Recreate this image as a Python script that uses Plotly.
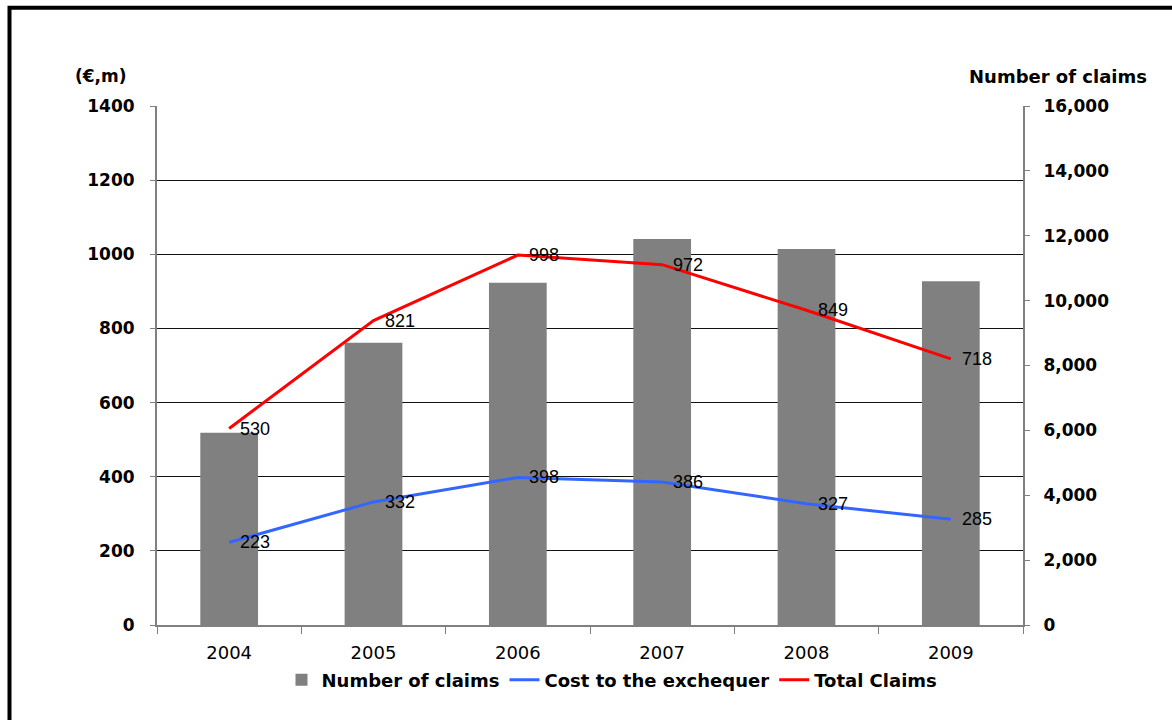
import plotly.graph_objects as go

# Data
years = ["2004", "2005", "2006", "2007", "2008", "2009"]
num_claims = [5930, 8700, 10550, 11900, 11590, 10600]
cost_exchequer = [223, 332, 398, 386, 327, 285]
total_claims = [530, 821, 998, 972, 849, 718]

left_ticks = [0, 200, 400, 600, 800, 1000, 1200, 1400]
right_ticks = [0, 2000, 4000, 6000, 8000, 10000, 12000, 14000, 16000]

BOLD = "DejaVu Sans"
LABEL_FONT = dict(family="Liberation Sans, Arial, sans-serif", size=18, color="black")

fig = go.Figure()

# Bars on the primary (right-hand) axis so the lines are drawn above them
fig.add_trace(go.Bar(
    x=years, y=num_claims, name="Number of claims",
    marker=dict(color="#808080", line=dict(width=0)),
    width=0.4, yaxis="y",
))

fig.add_trace(go.Scatter(
    x=years, y=cost_exchequer, name="Cost to the exchequer",
    mode="lines", line=dict(color="#3366FF", width=3), yaxis="y2",
))

fig.add_trace(go.Scatter(
    x=years, y=total_claims, name="Total Claims",
    mode="lines", line=dict(color="#FF0000", width=3), yaxis="y2",
))

L, R, T, B = 157, 149, 106, 95
W, H = 1172, 720
pw, ph = W - L - R, H - T - B


def px_x(x):
    return (x - L) / pw


def px_y(y):
    return (H - B - y) / ph


# value labels sit just to the right of each line point
# (category axis: annotation x is the category's index)
value_labels = []
for series in (cost_exchequer, total_claims):
    for i, v in enumerate(series):
        value_labels.append(dict(
            x=i, y=v, xref="x", yref="y2", text=str(v),
            xanchor="left", yanchor="middle", xshift=9,
            showarrow=False, font=LABEL_FONT,
        ))

fig.update_layout(
    width=W, height=H,
    margin=dict(l=L, r=R, t=T, b=B, pad=0),
    paper_bgcolor="white", plot_bgcolor="white",
    font=dict(family=BOLD, color="black"),
    bargap=0.6,
    showlegend=True,
    legend=dict(
        orientation="h", x=px_x(612), xanchor="center",
        y=px_y(680), yanchor="middle",
        font=dict(family=BOLD, size=18, color="black", weight="bold"),
        itemwidth=30, tracegroupgap=0,
    ),
    xaxis=dict(
        type="category", range=[-0.5, len(years) - 0.5],
        categoryorder="array", categoryarray=years,
        tickson="boundaries",
        ticks="outside", ticklen=7, tickcolor="#808080",
        showline=True, linecolor="#808080", linewidth=2,
        showgrid=False, zeroline=False,
        tickfont=dict(family="DejaVu Sans", size=18, color="black"),
        ticklabelstandoff=10,
    ),
    yaxis=dict(
        side="right", range=[0, 16000], tickvals=right_ticks,
        tickformat=",", ticks="outside", ticklen=5, tickcolor="#808080",
        showline=True, linecolor="#808080", linewidth=2,
        showgrid=False, zeroline=False,
        tickfont=dict(family=BOLD, size=17, color="black", weight="bold"),
        ticklabelstandoff=10,
    ),
    yaxis2=dict(
        overlaying="y", side="left", range=[0, 1400], tickvals=left_ticks,
        ticks="outside", ticklen=5, tickcolor="#808080",
        showline=True, linecolor="#808080", linewidth=2,
        showgrid=True, gridcolor="#111111", gridwidth=1, zeroline=False,
        tickfont=dict(family=BOLD, size=17, color="black", weight="bold"),
        ticklabelstandoff=12,
    ),
    annotations=value_labels + [
        dict(text="(€,m)", xref="paper", yref="paper",
             x=px_x(101), y=px_y(76), xanchor="center", yanchor="middle",
             showarrow=False,
             font=dict(family=BOLD, size=17, color="black", weight="bold")),
        dict(text="Number of claims", xref="paper", yref="paper",
             x=px_x(1058), y=px_y(77), xanchor="center", yanchor="middle",
             showarrow=False,
             font=dict(family=BOLD, size=18, color="black", weight="bold")),
    ],
    shapes=[
        # frame around the chart (left and top edges)
        dict(type="path", xref="paper", yref="paper",
             path=f"M {px_x(9.5)},{px_y(730)} L {px_x(9.5)},{px_y(7.7)} L {px_x(1180)},{px_y(7.7)}",
             line=dict(color="black", width=4), layer="above"),
    ],
)

fig.write_html("out.html")
